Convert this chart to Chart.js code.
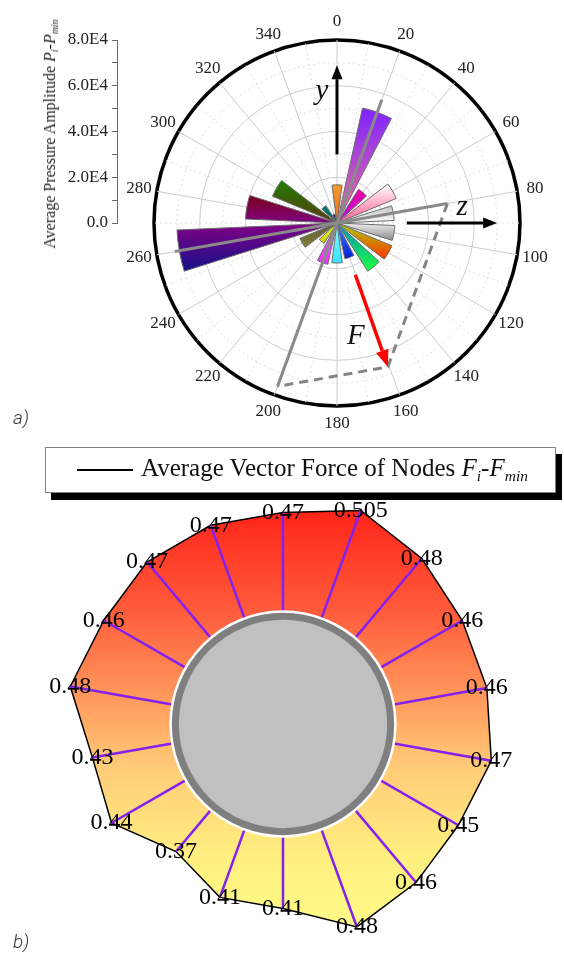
<!DOCTYPE html>
<html>
<head>
<meta charset="utf-8">
<title>Pressure amplitude rose and node force polygon</title>
<script src="https://cdn.jsdelivr.net/npm/chart.js@4.4.1/dist/chart.umd.min.js"></script>
<style>
  html, body { margin: 0; padding: 0; background: #fff; }
  body { width: 564px; height: 956px; position: relative; overflow: hidden;
         font-family: 'Liberation Serif', 'Times New Roman', serif; color: #222; }
  .box { position: absolute; }
  #roseBox { left: 0; top: 0; width: 564px; height: 450px; }
  #axisBox { left: 0; top: 0; width: 130px; height: 250px; }
  #forceBox { left: 0; top: 470px; width: 564px; height: 486px; }
  #axisTitle { position: absolute; left: 50px; top: 134px; transform: translate(-50%, -50%) rotate(-90deg);
               white-space: nowrap; font-size: 16px; color: #222; }
  sub { font-size: 0.62em; vertical-align: -0.3em; line-height: 0; }
  #legend { position: absolute; left: 45px; top: 447px; width: 509px; height: 44px; background: #fff;
            border: 1px solid #808080; box-shadow: 6px 7px 0 #000; z-index: 5; }
  #legend .sample { position: absolute; left: 31px; top: 21px; width: 56px; border-top: 2px solid #000; }
  #legend .text { position: absolute; left: 95px; top: 5px; font-size: 25px; line-height: 30px; white-space: nowrap; color: #111; }
  .panel { position: absolute; font-family: Roboto, sans-serif; font-style: italic; font-weight: 300;
           font-size: 19px; color: #333; }
</style>
</head>
<body>
<div id="roseBox" class="box"><canvas id="roseChart"></canvas></div>
<div id="axisBox" class="box"><canvas id="axisChart"></canvas></div>
<div id="axisTitle">Average Pressure Amplitude <i>P</i><sub><i>i</i></sub>-<i>P</i><sub><i>min</i></sub></div>
<div class="panel" style="left:13px; top:406px;">a)</div>
<div id="legend"><span class="sample"></span><span class="text">Average Vector Force of Nodes <i>F</i><sub><i>i</i></sub>-<i>F</i><sub><i>min</i></sub></span></div>
<div id="forceBox" class="box"><canvas id="forceChart"></canvas></div>
<div class="panel" style="left:13px; top:930px;">b)</div>

<script>
// ---- a) pressure rose: one wedge every 20 degrees ----
const angleLabels = ['0', '20', '40', '60', '80', '100', '120', '140', '160',
                     '180', '200', '220', '240', '260', '280', '300', '320', '340'];
const pressureValues = [16700, 51500, 17500, 28000, 25000, 25300, 26000, 25000, 16000,
                        17500, 18500, 10500, 17500, 70000, 40000, 30500, 9000, 4000];
const wedgeTopColors = ['#f59a2a', '#7f22ff', '#f000a0', '#ffffff', '#c4c4c4', '#eeeeee',
                        '#a8d400', '#0090b8', '#3a8cff', '#80ffff', '#c890ff', '#ffff20',
                        '#5a5a40', '#860086', '#7a0018', '#1e7e00', '#00807a', '#400040'];
const wedgeBottomColors = ['#e86a28', '#ee7898', '#a818e0', '#ff5890', '#ffffff', '#888888',
                           '#ff3000', '#20ff40', '#0018d8', '#38e0ff', '#ff20ff', '#c8c800',
                           '#868030', '#12128a', '#800084', '#5e3a10', '#005e5e', '#200060'];
const pressureTicks = [0, 20000, 40000, 60000, 80000];

// vector annotations (angle in degrees, reach in Pa on the radial scale)
const componentAngles = [20, 80];
const componentForward = [57300, 49000];
const componentBackward = [76000, 72000];
const forceArrowStart = 24000;
const axisArrowAngles = [0, 90];
const axisArrowFrom = [30000, 30500];
const axisArrowTo = [69000, 70000];
const axisNames = ['y', 'z', 'F'];
const axisNameAngles = [353.5, 82.7, 170.5];
const axisNameValues = [57700, 55100, 50100];

// ---- b) average vector force of the 18 nodes ----
const nodeAngles = ['0', '20', '40', '60', '80', '100', '120', '140', '160',
                    '180', '200', '220', '240', '260', '280', '300', '320', '340'];
const forceValues = [0.47, 0.505, 0.48, 0.46, 0.46, 0.47, 0.45, 0.46, 0.48,
                     0.41, 0.41, 0.37, 0.44, 0.43, 0.48, 0.46, 0.47, 0.47];

const SERIF = "'Liberation Serif', 'Times New Roman', serif";
const HALF = 7.5 * Math.PI / 180;
const hubValue = 0.247;

// build the 36-slot table (wedge, gap, wedge, gap ...)
const roseLabels = [];
const roseData = [];
angleLabels.forEach((l, k) => { roseLabels.push(l, ''); roseData.push(pressureValues[k], 0); });

function polarPoint(scale, angleDeg, value) {
  const d = scale.getDistanceFromCenterForValue(value);
  const a = (angleDeg - 90) * Math.PI / 180;
  return { x: scale.xCenter + Math.cos(a) * d, y: scale.yCenter + Math.sin(a) * d };
}

function wedgeFill(ctx) {
  const i = ctx.dataIndex;
  if (i === undefined || i % 2) return 'rgba(0,0,0,0)';
  const k = i / 2;
  const chart = ctx.chart;
  const scale = chart.scales.r;
  if (!scale || !chart.chartArea) return wedgeTopColors[k];
  const d = scale.getDistanceFromCenterForValue(pressureValues[k]);
  const c = scale.getIndexAngle(i) - Math.PI / 2;
  const ys = [scale.yCenter];
  [c - HALF, c + HALF].forEach(a => ys.push(scale.yCenter + Math.sin(a) * d));
  [-Math.PI / 2, Math.PI / 2].forEach(e => {
    if (Math.abs(Math.atan2(Math.sin(e - c), Math.cos(e - c))) <= HALF) ys.push(scale.yCenter + Math.sin(e) * d);
  });
  const y0 = Math.min(...ys), y1 = Math.max(...ys);
  const g = chart.ctx.createLinearGradient(0, y0, 0, y1 + 0.5);
  g.addColorStop(0, wedgeTopColors[k]);
  g.addColorStop(1, wedgeBottomColors[k]);
  return g;
}

// narrow each wedge to 15 degrees centred on its label angle
const wedgeWidth = {
  id: 'wedgeWidth',
  afterDatasetsUpdate(chart) {
    const scale = chart.scales.r;
    chart.getDatasetMeta(0).data.forEach((arc, i) => {
      if (i % 2) return;
      const c = scale.getIndexAngle(i) - Math.PI / 2;
      arc.startAngle = c - HALF;
      arc.endAngle = c + HALF;
    });
  }
};

function arrow(ctx, p0, p1, color, width, headLen, headHalf) {
  const a = Math.atan2(p1.y - p0.y, p1.x - p0.x);
  const bx = p1.x - Math.cos(a) * headLen, by = p1.y - Math.sin(a) * headLen;
  ctx.strokeStyle = color; ctx.fillStyle = color; ctx.lineWidth = width; ctx.setLineDash([]);
  ctx.beginPath(); ctx.moveTo(p0.x, p0.y); ctx.lineTo(bx, by); ctx.stroke();
  ctx.beginPath();
  ctx.moveTo(p1.x, p1.y);
  ctx.lineTo(bx + Math.sin(a) * headHalf, by - Math.cos(a) * headHalf);
  ctx.lineTo(bx - Math.sin(a) * headHalf, by + Math.cos(a) * headHalf);
  ctx.closePath(); ctx.fill();
}

const roseDecor = {
  id: 'roseDecor',
  afterDatasetsDraw(chart) {
    const ctx = chart.ctx, s = chart.scales.r;
    ctx.save();
    // angle labels
    ctx.fillStyle = '#222'; ctx.font = '17px ' + SERIF;
    ctx.textAlign = 'center'; ctx.textBaseline = 'middle';
    angleLabels.forEach((l, k) => {
      const p = s.getPointPosition(k * 2, s.drawingArea + 18);
      ctx.fillText(l, p.x, p.y);
    });
    // component lines through the centre
    ctx.strokeStyle = '#8a8a8a'; ctx.lineWidth = 3; ctx.lineCap = 'butt';
    const ends = [];
    componentAngles.forEach((a, j) => {
      const f = polarPoint(s, a, componentForward[j]);
      const b = polarPoint(s, a + 180, componentBackward[j]);
      ends.push({ f, b });
      ctx.beginPath(); ctx.moveTo(b.x, b.y); ctx.lineTo(f.x, f.y); ctx.stroke();
    });
    // parallelogram of the z component and the 200 degree component
    const p1 = ends[1].f, p3 = ends[0].b;
    const tip = { x: p1.x + p3.x - s.xCenter, y: p1.y + p3.y - s.yCenter };
    ctx.setLineDash([9, 6]); ctx.strokeStyle = '#858585';
    ctx.beginPath(); ctx.moveTo(p1.x, p1.y); ctx.lineTo(tip.x, tip.y); ctx.lineTo(p3.x, p3.y); ctx.stroke();
    ctx.setLineDash([]);
    // resultant force
    const fAng = Math.atan2(tip.y - s.yCenter, tip.x - s.xCenter);
    const fd = s.getDistanceFromCenterForValue(forceArrowStart);
    arrow(ctx, { x: s.xCenter + Math.cos(fAng) * fd, y: s.yCenter + Math.sin(fAng) * fd }, tip, '#ff0000', 3.5, 17, 6.5);
    // y / z axes
    axisArrowAngles.forEach((a, j) => {
      arrow(ctx, polarPoint(s, a, axisArrowFrom[j]), polarPoint(s, a, axisArrowTo[j]), '#000', 3, 14, 5.5);
    });
    ctx.fillStyle = '#111'; ctx.font = 'italic 29px ' + SERIF;
    axisNames.forEach((n, j) => {
      const p = polarPoint(s, axisNameAngles[j], axisNameValues[j]);
      ctx.fillText(n, p.x, p.y);
    });
    ctx.restore();
  }
};

new Chart(document.getElementById('roseChart'), {
  type: 'polarArea',
  data: {
    labels: roseLabels,
    datasets: [{
      data: roseData,
      backgroundColor: wedgeFill,
      borderColor: c => (c.dataIndex % 2 ? 'rgba(0,0,0,0)' : '#6c6c6c'),
      borderWidth: c => (c.dataIndex % 2 ? 0 : 1),
      borderJoinStyle: 'miter'
    }]
  },
  options: {
    responsive: true,
    maintainAspectRatio: false,
    animation: false,
    events: [],
    layout: { padding: { left: 154, right: 44, top: 40, bottom: 44 } },
    plugins: { legend: { display: false }, tooltip: { enabled: false } },
    scales: {
      r: {
        min: 0,
        max: 80000,
        startAngle: 0,
        ticks: { display: false, stepSize: 10000 },
        grid: {
          circular: true,
          color: c => (c.tick.value === 80000 ? '#000' : (c.tick.value % 20000 === 0 ? '#cdcdcd' : '#dcdcdc')),
          lineWidth: c => (c.tick.value === 80000 ? 3.5 : 1),
          borderDash: c => (c.tick.value % 20000 === 0 ? [] : [2, 3])
        },
        border: { dash: c => (c.tick && c.tick.value % 20000 !== 0 ? [2, 3] : []) },
        angleLines: {
          display: true,
          color: c => (c.index % 2 ? '#dedede' : '#cbcbcb'),
          lineWidth: 1,
          borderDash: c => (c.index % 2 ? [2, 3] : [])
        },
        pointLabels: { display: false }
      }
    }
  },
  plugins: [wedgeWidth, roseDecor]
});

// left value axis of the rose
new Chart(document.getElementById('axisChart'), {
  type: 'scatter',
  data: { datasets: [] },
  options: {
    responsive: true,
    maintainAspectRatio: false,
    animation: false,
    events: [],
    layout: { padding: { left: 0, right: 8, top: 40, bottom: 27 } },
    plugins: { legend: { display: false }, tooltip: { enabled: false } },
    scales: {
      x: { display: false },
      y: {
        position: 'left',
        min: pressureTicks[0],
        max: pressureTicks[pressureTicks.length - 1],
        afterFit: sc => { sc.width = 117; },
        ticks: {
          stepSize: 10000,
          autoSkip: false,
          padding: 4,
          color: '#222',
          font: { family: SERIF, size: 17 },
          callback: v => (pressureTicks.includes(v) ? (v === 0 ? '0.0' : (v / 10000).toFixed(1) + 'E4') : '')
        },
        grid: { drawOnChartArea: false, tickLength: 5, color: '#666' },
        border: { color: '#666', width: 1 }
      }
    }
  }
});

// ---- b) force polygon ----
const forceDecor = {
  id: 'forceDecor',
  afterDatasetsDraw(chart) {
    const ctx = chart.ctx, s = chart.scales.r;
    ctx.save();
    ctx.strokeStyle = '#8420f0'; ctx.lineWidth = 2.5;
    forceValues.forEach((v, i) => {
      const a = s.getPointPositionForValue(i, hubValue);
      const b = s.getPointPositionForValue(i, v);
      ctx.beginPath(); ctx.moveTo(a.x, a.y); ctx.lineTo(b.x, b.y); ctx.stroke();
    });
    const r = s.getDistanceFromCenterForValue(hubValue);
    ctx.fillStyle = '#fff';
    ctx.beginPath(); ctx.arc(s.xCenter, s.yCenter, r + 2.5, 0, Math.PI * 2); ctx.fill();
    ctx.fillStyle = '#c0c0c0'; ctx.strokeStyle = '#7f7f7f'; ctx.lineWidth = 7;
    ctx.beginPath(); ctx.arc(s.xCenter, s.yCenter, r - 3.5, 0, Math.PI * 2); ctx.fill(); ctx.stroke();
    ctx.fillStyle = '#000'; ctx.font = '24px ' + SERIF;
    ctx.textAlign = 'center'; ctx.textBaseline = 'middle';
    forceValues.forEach((v, i) => {
      const p = s.getPointPositionForValue(i, v);
      ctx.fillText(String(v), p.x, p.y);
    });
    ctx.restore();
  }
};

function forceFill(ctx) {
  const chart = ctx.chart, s = chart.scales.r;
  if (!s || !chart.chartArea) return '#ffb070';
  const g = chart.ctx.createLinearGradient(0, s.yCenter - s.drawingArea, 0, s.yCenter + s.drawingArea);
  g.addColorStop(0, '#ff1e14');
  g.addColorStop(0.25, '#ff5c3c');
  g.addColorStop(0.45, '#ff9c5e');
  g.addColorStop(0.6, '#ffcc78');
  g.addColorStop(0.8, '#fff080');
  g.addColorStop(1, '#ffff8a');
  return g;
}

new Chart(document.getElementById('forceChart'), {
  type: 'radar',
  data: {
    labels: nodeAngles,
    datasets: [{
      label: 'Average Vector Force of Nodes',
      data: forceValues,
      fill: true,
      backgroundColor: forceFill,
      borderColor: '#000',
      borderWidth: 1.5,
      pointRadius: 0,
      tension: 0
    }]
  },
  options: {
    responsive: true,
    maintainAspectRatio: false,
    animation: false,
    events: [],
    layout: { padding: { left: 58, right: 56, top: 29, bottom: 7 } },
    plugins: { legend: { display: false }, tooltip: { enabled: false } },
    scales: {
      r: {
        min: 0,
        max: 0.5,
        startAngle: 0,
        ticks: { display: false },
        grid: { display: false },
        angleLines: { display: false },
        pointLabels: { display: false }
      }
    }
  },
  plugins: [forceDecor]
});
</script>
</body>
</html>
